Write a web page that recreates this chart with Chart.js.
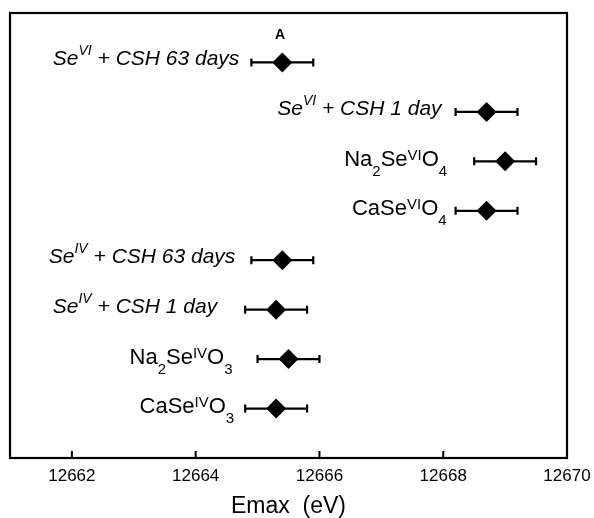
<!DOCTYPE html>
<html><head><meta charset="utf-8">
<script src="https://cdn.jsdelivr.net/npm/chart.js@4/dist/chart.umd.min.js"></script>
<style>html,body{margin:0;padding:0;background:#fff;}</style>
</head><body>
<canvas id="c" width="594" height="518"></canvas>
<script>
// ---- data ----
const sampleLabels = [
  'Se^{VI} + CSH 63 days',
  'Se^{VI} + CSH 1 day',
  'Na_{2}Se^{VI}O_{4}',
  'CaSe^{VI}O_{4}',
  'Se^{IV} + CSH 63 days',
  'Se^{IV} + CSH 1 day',
  'Na_{2}Se^{IV}O_{3}',
  'CaSe^{IV}O_{3}'
];
const labelItalic = [true, true, false, false, true, true, false, false];
const emax = [12665.4, 12668.7, 12669.0, 12668.7, 12665.4, 12665.3, 12665.5, 12665.3];
const emaxErr = [0.5, 0.5, 0.5, 0.5, 0.5, 0.5, 0.5, 0.5];
const xTicks = [12662, 12664, 12666, 12668, 12670];
const xTitle = 'Emax  (eV)';
const panelLabel = 'A';

// ---- layout / style ----
const FONT = '"Liberation Sans", Arial, sans-serif';
const labelGap = [12, 14, 27, 9, 16, 28, 25, 11];

function parseRich(s) {
  const parts = s.split(/(\^\{[^}]*\}|_\{[^}]*\})/).filter(p => p.length);
  return parts.map(p => {
    if (p.startsWith('^{')) return {t: p.slice(2, -1), k: 'sup'};
    if (p.startsWith('_{')) return {t: p.slice(2, -1), k: 'sub'};
    return {t: p, k: 'n'};
  });
}

const errorBarPlugin = {
  id: 'errbars',
  beforeDatasetsDraw(chart) {
    const ctx = chart.ctx, xs = chart.scales.x, ys = chart.scales.y;
    ctx.save();
    ctx.strokeStyle = '#000';
    ctx.lineWidth = 2.2;
    emax.forEach((v, i) => {
      const y = ys.getPixelForValue(i);
      const x0 = xs.getPixelForValue(v - emaxErr[i]);
      const x1 = xs.getPixelForValue(v + emaxErr[i]);
      ctx.beginPath();
      ctx.moveTo(x0, y); ctx.lineTo(x1, y);
      ctx.moveTo(x0, y - 4); ctx.lineTo(x0, y + 4);
      ctx.moveTo(x1, y - 4); ctx.lineTo(x1, y + 4);
      ctx.stroke();
    });
    ctx.restore();
  }
};

const labelPlugin = {
  id: 'richLabels',
  afterDraw(chart) {
    const ctx = chart.ctx, xs = chart.scales.x, ys = chart.scales.y, a = chart.chartArea;
    ctx.save();
    ctx.fillStyle = '#000';
    ctx.textBaseline = 'alphabetic';
    ctx.textAlign = 'left';
    sampleLabels.forEach((lab, i) => {
      const it = labelItalic[i];
      const fMain = (it ? 'italic 21px ' : '22px ') + FONT;
      const fSmall = (it ? 'italic 14px ' : '15px ') + FONT;
      const raise = it ? 10 : 6;
      const drop = 10;
      const segs = parseRich(lab);
      let w = 0;
      segs.forEach(s => { ctx.font = s.k === 'n' ? fMain : fSmall; s.w = ctx.measureText(s.t).width; w += s.w; });
      const right = xs.getPixelForValue(emax[i] - emaxErr[i]) - labelGap[i];
      const base = ys.getPixelForValue(i) + (it ? 3 : 4.5);
      let x = right - w;
      segs.forEach(s => {
        ctx.font = s.k === 'n' ? fMain : fSmall;
        const y = s.k === 'sup' ? base - raise : (s.k === 'sub' ? base + drop : base);
        ctx.fillText(s.t, x, y);
        x += s.w;
      });
    });
    // panel label
    ctx.font = 'bold 14px ' + FONT;
    ctx.textAlign = 'center';
    ctx.textBaseline = 'middle';
    ctx.fillText(panelLabel, a.left + 270, a.top + 22);
    // inward tick marks on the x axis
    ctx.strokeStyle = '#000';
    ctx.lineWidth = 2;
    xs.ticks.forEach(t => {
      const px = xs.getPixelForValue(t.value);
      ctx.beginPath();
      ctx.moveTo(px, a.bottom);
      ctx.lineTo(px, a.bottom - 7);
      ctx.stroke();
    });
    // frame
    ctx.lineWidth = 2.2;
    ctx.strokeRect(a.left, a.top, a.right - a.left, a.bottom - a.top);
    ctx.restore();
  }
};

new Chart(document.getElementById('c').getContext('2d'), {
  type: 'scatter',
  data: {
    datasets: [{
      data: emax.map((x, i) => ({x: x, y: i})),
      pointStyle: 'rectRot',
      pointRadius: 10,
      backgroundColor: '#000',
      borderColor: '#000',
      borderWidth: 0
    }]
  },
  options: {
    responsive: false,
    animation: false,
    events: [],
    layout: {padding: {left: 9, right: 27, top: 13, bottom: 0}},
    plugins: {legend: {display: false}, tooltip: {enabled: false}},
    scales: {
      x: {
        type: 'linear', min: 12661, max: 12670, position: 'bottom',
        afterBuildTicks: s => { s.ticks = xTicks.map(v => ({value: v})); },
        afterFit: s => { s.height = 60; s.paddingLeft = 0; s.paddingRight = 0; },
        ticks: {autoSkip: false, maxRotation: 0, padding: 8, color: '#000',
                font: {family: FONT, size: 17},
                callback: v => String(v)},
        grid: {display: false, drawOnChartArea: false, drawTicks: false},
        border: {display: false},
        title: {display: true, text: xTitle, color: '#000', padding: 0,
                font: {family: FONT, size: 23, lineHeight: 1}}
      },
      y: {type: 'linear', min: -1, max: 8, reverse: true, display: false}
    }
  },
  plugins: [errorBarPlugin, labelPlugin]
});
</script>
</body></html>
